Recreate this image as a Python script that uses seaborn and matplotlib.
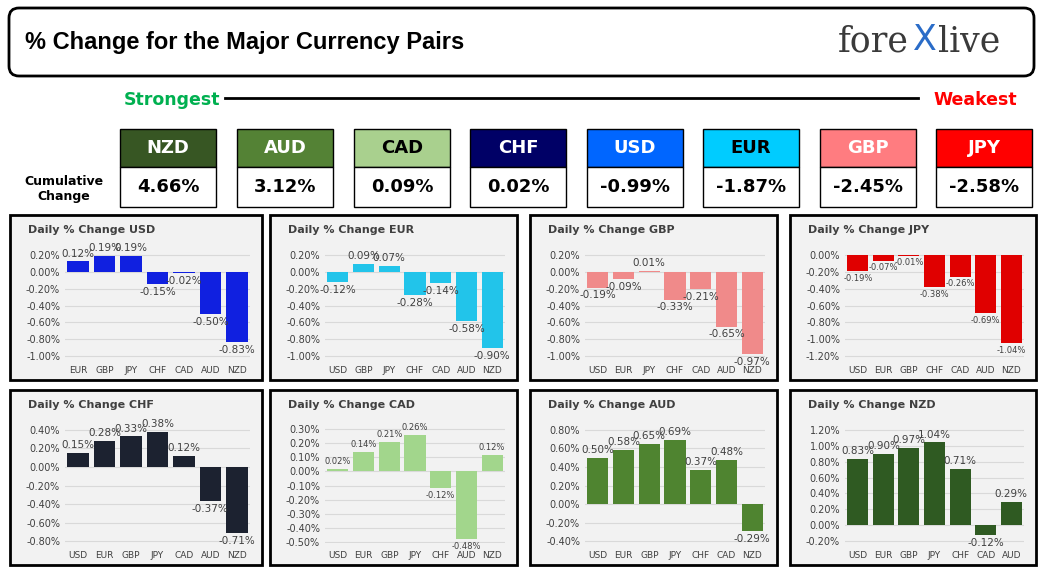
import matplotlib
matplotlib.use("Agg")
import matplotlib.pyplot as plt
from matplotlib.patches import FancyBboxPatch, Rectangle
import numpy as np
import pandas as pd
import seaborn as sns

W, H = 1044, 575

# --- data ---
strength_ccy = ["NZD", "AUD", "CAD", "CHF", "USD", "EUR", "GBP", "JPY"]
strength_pct = [4.66, 3.12, 0.09, 0.02, -0.99, -1.87, -2.45, -2.58]

usd_pairs = ["EUR", "GBP", "JPY", "CHF", "CAD", "AUD", "NZD"]
usd_vals = [0.12, 0.19, 0.19, -0.15, -0.02, -0.50, -0.83]
eur_pairs = ["USD", "GBP", "JPY", "CHF", "CAD", "AUD", "NZD"]
eur_vals = [-0.12, 0.09, 0.07, -0.28, -0.14, -0.58, -0.90]
gbp_pairs = ["USD", "EUR", "JPY", "CHF", "CAD", "AUD", "NZD"]
gbp_vals = [-0.19, -0.09, 0.01, -0.33, -0.21, -0.65, -0.97]
jpy_pairs = ["USD", "EUR", "GBP", "CHF", "CAD", "AUD", "NZD"]
jpy_vals = [-0.19, -0.07, -0.01, -0.38, -0.26, -0.69, -1.04]
chf_pairs = ["USD", "EUR", "GBP", "JPY", "CAD", "AUD", "NZD"]
chf_vals = [0.15, 0.28, 0.33, 0.38, 0.12, -0.37, -0.71]
cad_pairs = ["USD", "EUR", "GBP", "JPY", "CHF", "AUD", "NZD"]
cad_vals = [0.02, 0.14, 0.21, 0.26, -0.12, -0.48, 0.12]
aud_pairs = ["USD", "EUR", "GBP", "JPY", "CHF", "CAD", "NZD"]
aud_vals = [0.50, 0.58, 0.65, 0.69, 0.37, 0.48, -0.29]
nzd_pairs = ["USD", "EUR", "GBP", "JPY", "CHF", "CAD", "AUD"]
nzd_vals = [0.83, 0.90, 0.97, 1.04, 0.71, -0.12, 0.29]

header_colors = ["#375623", "#548235", "#a9d08e", "#000066", "#0066ff", "#00ccff", "#ff7c80", "#ff0000"]
header_text = ["white", "white", "black", "white", "white", "black", "white", "white"]

fig = plt.figure(figsize=(W / 100, H / 100), dpi=100)
fig.patch.set_facecolor("white")
bg = fig.add_axes([0, 0, 1, 1])
bg.set_xlim(0, W)
bg.set_ylim(H, 0)
bg.axis("off")

# title box
bg.add_patch(FancyBboxPatch((9, 8), 1025, 68, boxstyle="round,pad=0,rounding_size=10",
                            fc="white", ec="black", lw=2))
bg.text(25, 42, "% Change for the Major Currency Pairs", fontsize=17, fontweight="bold",
        va="center", family="Liberation Sans")
bg.text(838, 42, "fore", fontsize=25, color="#3a3a3a", va="center", family="DejaVu Serif")
bg.text(913, 40, "X", fontsize=25, color="#2a6cc8", va="center", family="DejaVu Sans")
bg.text(938, 42, "live", fontsize=25, color="#3a3a3a", va="center", family="DejaVu Serif")

# strongest / weakest
bg.text(124, 100, "Strongest", fontsize=12.5, fontweight="bold", color="#00b050", va="center")
bg.plot([225, 918], [98, 98], color="black", lw=2)
bg.text(1017, 100, "Weakest", fontsize=12.5, fontweight="bold", color="#ff0000", va="center",
        ha="right")

bg.text(64, 189, "Cumulative\nChange", fontsize=9, fontweight="bold", ha="center", va="center",
        linespacing=1.2)
col_x = [120, 237, 354, 470, 587, 703, 820, 936]
bw = 96
for x, ccy, pct, c, tc in zip(col_x, strength_ccy, strength_pct, header_colors, header_text):
    bg.add_patch(Rectangle((x, 129), bw, 38, fc=c, ec="black", lw=1))
    bg.add_patch(Rectangle((x, 167), bw, 40, fc="white", ec="black", lw=1))
    bg.text(x + bw / 2, 148, ccy, fontsize=13, fontweight="bold", color=tc, ha="center",
            va="center")
    bg.text(x + bw / 2, 187, f"{pct:.2f}%", fontsize=13, fontweight="bold", ha="center",
            va="center")

panels = [
    ("USD", usd_pairs, usd_vals, "#1020e0", (10, 215, 252, 165), np.arange(-1.0, 0.21, 0.2), 7.5),
    ("EUR", eur_pairs, eur_vals, "#22c4ea", (270, 215, 247, 165), np.arange(-1.0, 0.21, 0.2), 7.5),
    ("GBP", gbp_pairs, gbp_vals, "#f08a8a", (530, 215, 247, 165), np.arange(-1.0, 0.21, 0.2), 7.5),
    ("JPY", jpy_pairs, jpy_vals, "#e00000", (790, 215, 246, 165), np.arange(-1.2, 0.01, 0.2), 6),
    ("CHF", chf_pairs, chf_vals, "#1c2230", (10, 390, 252, 175), np.arange(-0.8, 0.41, 0.2), 7.5),
    ("CAD", cad_pairs, cad_vals, "#a2d68c", (270, 390, 247, 175), np.arange(-0.5, 0.31, 0.1), 6),
    ("AUD", aud_pairs, aud_vals, "#4f8430", (530, 390, 247, 175), np.arange(-0.4, 0.81, 0.2), 7.5),
    ("NZD", nzd_pairs, nzd_vals, "#2f5a22", (790, 390, 246, 175), np.arange(-0.2, 1.21, 0.2), 7.5),
]

for name, cats, vals, color, (px, py, pw, ph), ticks, lfs in panels:
    bg.add_patch(Rectangle((px, py), pw, ph, fc="#f2f2f2", ec="black", lw=2))
    bg.text(px + 18, py + 15, f"Daily % Change {name}", fontsize=8, fontweight="bold",
            color="#404040", va="center")
    ax = fig.add_axes([(px + 55) / W, 1 - (py + ph - 22) / H, (pw - 67) / W, (ph - 60) / H])
    df = pd.DataFrame({"pair": cats, "val": vals})
    sns.barplot(data=df, x="pair", y="val", color=color, saturation=1, width=0.82, ax=ax,
                edgecolor="none")
    ax.set_facecolor("#f2f2f2")
    step = ticks[1] - ticks[0]
    ax.set_ylim(ticks[0] - step * 0.1, ticks[-1] + step * 0.1)
    ax.set_yticks(ticks)
    ax.set_yticklabels([f"{t:.2f}%".replace("-0.00", "0.00") for t in ticks],
                       fontsize=7, color="#404040")
    ax.yaxis.grid(True, color="#d9d9d9", lw=0.8)
    ax.set_axisbelow(True)
    ax.tick_params(axis="x", labelsize=6.5, colors="#404040", length=0, pad=6)
    ax.tick_params(axis="y", length=0)
    ax.set_xlabel("")
    ax.set_ylabel("")
    for s in ax.spines.values():
        s.set_visible(False)
    for i, v in enumerate(vals):
        ax.annotate(f"{v:.2f}%", (i, v), xytext=(0, 2 if v >= 0 else -2), textcoords="offset points",
                    ha="center", va="bottom" if v >= 0 else "top", fontsize=lfs, color="#404040")

fig.savefig("out.png", dpi=100, facecolor="white")
